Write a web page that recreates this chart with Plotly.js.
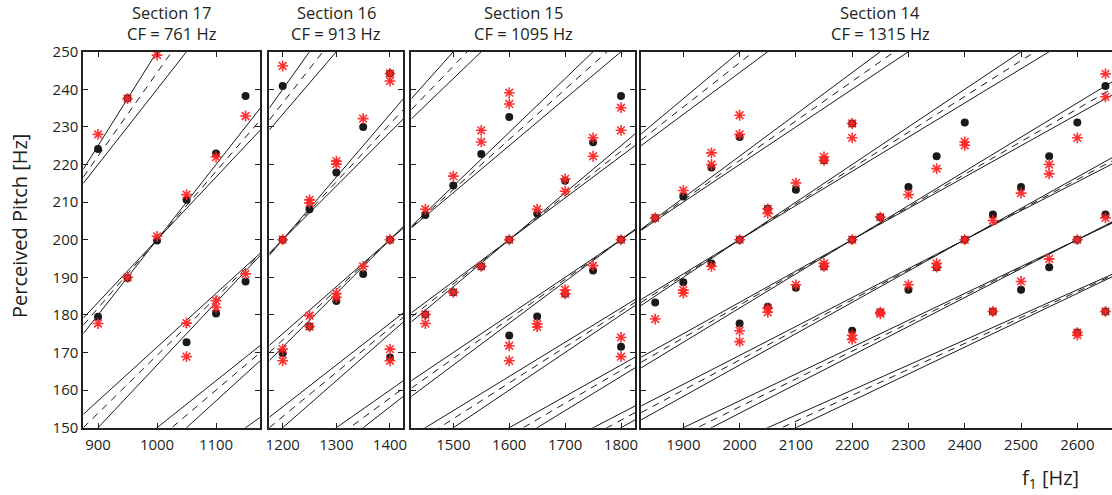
<!DOCTYPE html>
<html><head><meta charset="utf-8">
<script src="https://cdn.plot.ly/plotly-3.0.1.min.js"></script>
<style>html,body{margin:0;padding:0;background:#fff}#chart{width:1112px;height:495px}</style>
</head><body><div id="chart"></div><script>
// ---- Data ----
const sectionTitles = ["Section 17", "Section 16", "Section 15", "Section 14"];
const cfLabels = ["CF = 761 Hz", "CF = 913 Hz", "CF = 1095 Hz", "CF = 1315 Hz"];
const xRanges = [[875, 1175], [1175, 1425], [1425, 1825], [1825, 2661.6]];
const xTicks = [[900, 1000, 1100], [1200, 1300, 1400], [1500, 1600, 1700, 1800], [1900, 2000, 2100, 2200, 2300, 2400, 2500, 2600]];
const yTicks = [150, 160, 170, 180, 190, 200, 210, 220, 230, 240, 250];

// model-line families: pitch = F0 + (f1 - n*F0)/(n + offset)
const F0 = 200;
const harmonicNumbers = [3, 4, 5, 6, 7, 8, 9, 10, 11, 12, 13, 14];
const solidOffsets = [0, 1];
const dashedOffsets = [0.5];

// Section 17
const s17BlackF1 = [900, 900, 950, 950, 1000, 1050, 1050, 1100, 1100, 1150, 1150];
const s17BlackPitch = [224.1, 179.5, 237.6, 189.8, 199.8, 210.6, 172.7, 222.9, 180.4, 238.2, 188.9];
const s17RedF1 = [900, 900, 950, 950, 1000, 1000, 1050, 1050, 1050, 1100, 1100, 1100, 1150, 1150];
const s17RedPitch = [228.0, 177.7, 237.5, 190.0, 249.1, 200.9, 212.0, 177.8, 168.9, 222.0, 183.8, 182.0, 232.9, 190.9];

// Section 16
const s16BlackF1 = [1200, 1200, 1200, 1250, 1250, 1300, 1300, 1350, 1350, 1400, 1400, 1400];
const s16BlackPitch = [240.9, 200.0, 169.8, 208.1, 176.9, 217.9, 183.7, 230.0, 190.9, 244.2, 200.0, 168.7];
const s16RedF1 = [1200, 1200, 1200, 1200, 1250, 1250, 1250, 1250, 1300, 1300, 1300, 1300, 1350, 1350, 1400, 1400, 1400, 1400, 1400];
const s16RedPitch = [246.2, 200.0, 170.9, 167.8, 210.6, 209.8, 179.8, 176.9, 220.9, 220.1, 185.7, 184.7, 232.2, 192.9, 244.2, 242.2, 200.0, 170.9, 167.8];

// Section 15
const s15BlackF1 = [1450, 1450, 1500, 1500, 1550, 1550, 1600, 1600, 1600, 1650, 1650, 1700, 1700, 1750, 1750, 1800, 1800, 1800];
const s15BlackPitch = [206.6, 180.1, 214.4, 186.0, 222.8, 192.9, 232.6, 200.0, 174.5, 207.0, 179.6, 215.7, 185.6, 225.9, 191.8, 238.2, 200.0, 171.5];
const s15RedF1 = [1450, 1450, 1450, 1500, 1500, 1550, 1550, 1550, 1600, 1600, 1600, 1600, 1600, 1650, 1650, 1650, 1700, 1700, 1700, 1700, 1750, 1750, 1750, 1800, 1800, 1800, 1800, 1800];
const s15RedPitch = [208.1, 180.1, 177.7, 216.9, 186.0, 229.1, 226.0, 192.9, 239.1, 236.1, 200.0, 171.8, 167.8, 208.1, 177.6, 176.8, 216.2, 212.9, 186.7, 185.6, 227.1, 222.2, 193.1, 235.1, 229.1, 200.0, 174.0, 168.9];

// Section 14
const s14BlackF1 = [1850, 1850, 1900, 1900, 1950, 1950, 2000, 2000, 2000, 2050, 2050, 2100, 2100, 2150, 2150, 2200, 2200, 2200, 2250, 2250, 2300, 2300, 2350, 2350, 2400, 2400, 2450, 2450, 2500, 2500, 2550, 2550, 2600, 2600, 2600, 2650, 2650, 2650];
const s14BlackPitch = [205.8, 183.3, 211.5, 188.7, 219.2, 193.7, 227.3, 200.0, 177.7, 208.2, 182.2, 213.3, 187.2, 221.1, 192.9, 230.9, 200.0, 175.8, 206.0, 180.7, 214.0, 186.7, 222.2, 192.7, 231.2, 200.0, 206.7, 180.9, 214.0, 186.7, 222.2, 192.7, 231.2, 200.0, 175.3, 240.9, 206.7, 180.9];
const s14RedF1 = [1850, 1850, 1900, 1900, 1900, 1950, 1950, 1950, 2000, 2000, 2000, 2000, 2000, 2050, 2050, 2050, 2050, 2100, 2100, 2150, 2150, 2150, 2150, 2200, 2200, 2200, 2200, 2200, 2250, 2250, 2250, 2300, 2300, 2350, 2350, 2350, 2400, 2400, 2400, 2450, 2450, 2500, 2500, 2550, 2550, 2550, 2600, 2600, 2600, 2600, 2650, 2650, 2650, 2650];
const s14RedPitch = [205.8, 178.9, 213.1, 186.6, 185.8, 223.1, 220.0, 192.9, 233.1, 228.0, 200.0, 175.8, 172.9, 208.2, 207.0, 181.8, 180.7, 215.1, 188.0, 222.0, 221.1, 193.7, 192.9, 230.9, 227.1, 200.0, 174.6, 173.5, 206.0, 180.7, 180.3, 212.0, 188.0, 218.9, 193.7, 192.7, 226.0, 225.1, 200.0, 205.1, 180.9, 212.4, 188.9, 220.0, 217.5, 194.9, 227.1, 200.0, 175.3, 174.6, 244.1, 238.0, 205.8, 180.9];

const blackF1 = [s17BlackF1, s16BlackF1, s15BlackF1, s14BlackF1];
const blackPitch = [s17BlackPitch, s16BlackPitch, s15BlackPitch, s14BlackPitch];
const redF1 = [s17RedF1, s16RedF1, s15RedF1, s14RedF1];
const redPitch = [s17RedPitch, s16RedPitch, s15RedPitch, s14RedPitch];

// ---- Layout geometry (pixels in a 1112x495 page) ----
const W = 1112, H = 495;
const panelPx = [[83.3, 260.3], [269.3, 403.4], [411.4, 635.0], [641.1, 1112]];
const plotTop = 51.7, plotBottom = 427.7;
const txt = '#231f20';
const font = 'Open Sans, Noto Sans, sans-serif';
const red = 'rgba(255,38,38,0.95)';

function modelLines(range, offsets) {
  const xs = [], ys = [];
  harmonicNumbers.forEach(n => {
    offsets.forEach(o => {
      range.forEach(f => { xs.push(f); ys.push(F0 + (f - n * F0) / (n + o)); });
      xs.push(null); ys.push(null);
    });
  });
  return {xs, ys};
}

const traces = [];
const layout = {
  width: W, height: H,
  margin: {l: 0, r: 0, t: 0, b: 0},
  paper_bgcolor: '#fff', plot_bgcolor: '#fff',
  showlegend: false,
  font: {family: font, color: txt, size: 15},
  annotations: []
};

for (let i = 0; i < 4; i++) {
  const sfx = i === 0 ? '' : String(i + 1);
  const xa = 'x' + sfx, ya = 'y' + sfx;
  const solid = modelLines(xRanges[i], solidOffsets);
  const dashed = modelLines(xRanges[i], dashedOffsets);
  traces.push({x: solid.xs, y: solid.ys, xaxis: xa, yaxis: ya, mode: 'lines', type: 'scatter',
    line: {color: '#1a1a1a', width: 1}, hoverinfo: 'skip'});
  traces.push({x: dashed.xs, y: dashed.ys, xaxis: xa, yaxis: ya, mode: 'lines', type: 'scatter',
    line: {color: '#1a1a1a', width: 1, dash: '7px,6px'}, hoverinfo: 'skip'});
  traces.push({x: blackF1[i], y: blackPitch[i], xaxis: xa, yaxis: ya, mode: 'markers', type: 'scatter',
    marker: {symbol: 'circle', size: 8, color: '#1a1a1a'}, cliponaxis: true});
  traces.push({x: redF1[i], y: redPitch[i], xaxis: xa, yaxis: ya, mode: 'markers', type: 'scatter',
    marker: {symbol: 'asterisk-open', size: 9, color: red, line: {color: red, width: 1.6}}, cliponaxis: true});

  layout['xaxis' + sfx] = {
    domain: [panelPx[i][0] / W, panelPx[i][1] / W], range: xRanges[i], anchor: ya,
    tickvals: xTicks[i], ticks: 'inside', ticklen: 5, tickwidth: 1, tickcolor: '#222',
    showline: true, linewidth: 2, linecolor: '#222', mirror: 'ticks',
    showgrid: false, zeroline: false, tickfont: {size: 15, color: txt}, ticklabelstandoff: 2
  };
  layout['yaxis' + sfx] = {
    domain: [1 - plotBottom / H, 1 - plotTop / H], range: [150, 250], anchor: xa,
    tickvals: yTicks, ticks: 'inside', ticklen: 5, tickwidth: 1, tickcolor: '#222',
    showline: true, linewidth: 2, linecolor: '#222', mirror: i === 3 ? false : 'ticks',
    showgrid: false, zeroline: false, showticklabels: i === 0, tickfont: {size: 15, color: txt}
  };
  const cx = i === 3 ? 880 : (panelPx[i][0] + panelPx[i][1]) / 2;
  layout.annotations.push({xref: 'paper', yref: 'paper', x: cx / W, y: 1 - 12.5 / H, text: sectionTitles[i],
    showarrow: false, xanchor: 'center', yanchor: 'middle', font: {size: 16.5, color: txt}});
  layout.annotations.push({xref: 'paper', yref: 'paper', x: cx / W, y: 1 - 33.5 / H, text: cfLabels[i],
    showarrow: false, xanchor: 'center', yanchor: 'middle', font: {size: 16.5, color: txt}});
}
layout.annotations.push({xref: 'paper', yref: 'paper', x: 19 / W, y: 1 - 226 / H, text: 'Perceived Pitch [Hz]',
  textangle: -90, showarrow: false, xanchor: 'center', yanchor: 'middle', font: {size: 20, color: txt}});
layout.annotations.push({xref: 'paper', yref: 'paper', x: 1050 / W, y: 1 - 478 / H, text: 'f<sub>1</sub> [Hz]',
  showarrow: false, xanchor: 'center', yanchor: 'middle', font: {size: 20, color: txt}});

Plotly.newPlot('chart', traces, layout, {staticPlot: true, displayModeBar: false});
</script></body></html>
